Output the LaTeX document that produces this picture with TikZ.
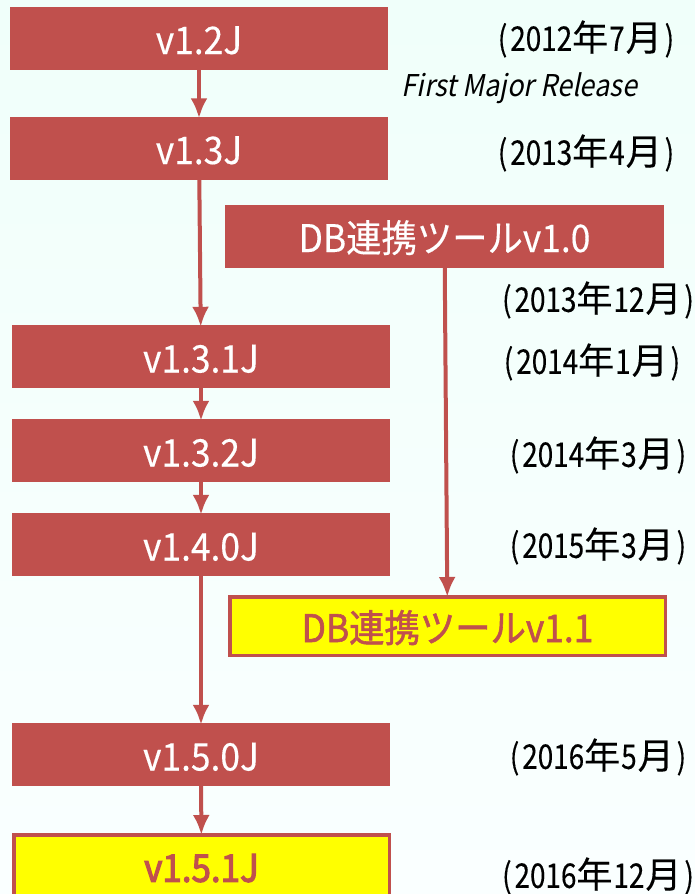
\documentclass[tikz,border=0pt]{standalone}
\usepackage{fontspec}
\usetikzlibrary{arrows.meta}
\newfontfamily\boxfam[FakeStretch=0.93,FakeBold=0.3]{Noto Sans CJK JP}
\newfontfamily\medfam[FakeStretch=0.93,FakeBold=1.5]{Noto Sans CJK JP}
\newfontfamily\heavyfam[FakeStretch=0.92,FakeBold=3]{Noto Sans CJK JP}
\newfontfamily\digitfam[FakeStretch=0.82,FakeBold=0.3]{Noto Sans CJK JP}
\newfontfamily\kanjifam[FakeBold=0.3]{Noto Sans CJK JP}
\newfontfamily\notefam[FakeStretch=0.9,FakeSlant=0.2]{Noto Sans CJK JP}
\newcommand{\dl}{\digitfam\fontsize{34}{38}\selectfont}
\newcommand{\dk}{\kanjifam\fontsize{36}{38}\selectfont}
\newcommand{\ym}[2]{{\dl(\hspace{3pt}}{\dl #1}{\dk 年}{\dl\hspace{1pt}#2\hspace{1pt}}{\dk 月}{\dl\hspace{3pt})}}
\definecolor{brick}{RGB}{192,80,77}
\definecolor{hilite}{RGB}{255,255,0}
\definecolor{bgtop}{RGB}{240,255,250}
\definecolor{bgbot}{RGB}{250,255,255}
\tikzset{
  vbox/.style={fill=brick,text=white,minimum width=378pt,minimum height=63pt,inner sep=0pt,text height=36pt,text depth=4pt,font=\boxfam\fontsize{38}{42}\selectfont},
  newbox/.style={fill=hilite,draw=brick,line width=3.5pt,text=brick,inner sep=0pt,text height=36pt,text depth=4pt,font=\medfam\fontsize{38}{42}\selectfont},
  datelabel/.style={inner sep=0pt,text=black},
  notelabel/.style={inner sep=0pt,text=black,font=\notefam\fontsize{30}{34}\selectfont},
  link/.style={draw=brick,line width=4pt,shorten >=-2pt,-{Latex[length=20pt,width=17pt]}}
}
\begin{document}
\begin{tikzpicture}[x=1pt,y=-1pt]
\useasboundingbox (0,0) rectangle (695,894);
\shade[top color=bgtop,bottom color=bgbot] (0,0) rectangle (695,894);
\node[vbox] (v12) at (199,38) {v1.2J};
\node[vbox] (v13) at (199,148) {v1.3J};
\node[vbox,minimum width=439pt] (db10) at (444.5,236) {DB連携ツールv1.0};
\node[vbox] (v131) at (201,356.5) {v1.3.1J};
\node[vbox] (v132) at (201,450.5) {v1.3.2J};
\node[vbox] (v140) at (201,544.5) {v1.4.0J};
\node[newbox,minimum width=435.5pt,minimum height=58.5pt] (db11) at (447.5,626) {DB連携ツールv1.1};
\node[vbox] (v150) at (201,754.5) {v1.5.0J};
\node[newbox,minimum width=375.5pt,minimum height=70pt,text height=32pt,text depth=8pt,font=\heavyfam\fontsize{38}{42}\selectfont] (v151) at (201.5,869.75) {v1.5.1J};
\draw[link] (v12) -- (v13);
\draw[link] (v13) -- (v131);
\draw[link] (v131) -- (v132);
\draw[link] (v132) -- (v140);
\draw[link] (v140) -- (v150);
\draw[link] (v150) -- (v151);
\draw[link] (db10) -- (db11);
\node[datelabel] (d1) at (586,39) {\ym{2012}{7}};
\node[notelabel] (n1) at (519.5,88) {First Major Release};
\node[datelabel] (d2) at (586,153) {\ym{2013}{4}};
\node[datelabel] (d3) at (598,300) {\ym{2013}{12}};
\node[datelabel] (d4) at (592,362) {\ym{2014}{1}};
\node[datelabel] (d5) at (598,455) {\ym{2014}{3}};
\node[datelabel] (d6) at (598,546) {\ym{2015}{3}};
\node[datelabel] (d7) at (598,757) {\ym{2016}{5}};
\node[datelabel] (d8) at (598,876) {\ym{2016}{12}};
\end{tikzpicture}
\end{document}
